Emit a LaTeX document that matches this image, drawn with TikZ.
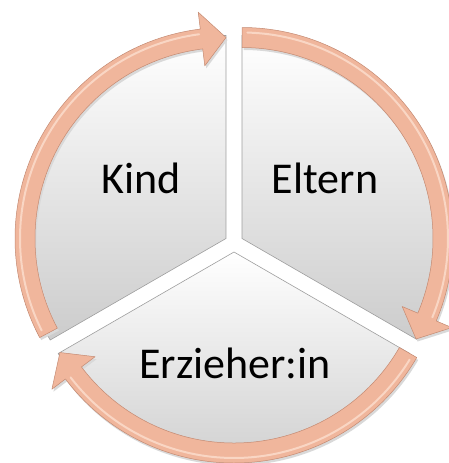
\documentclass[tikz,border=0pt]{standalone}
\usepackage{fontspec}
\setmainfont{Carlito}
\usetikzlibrary{calc}
\definecolor{peach}{HTML}{F0B69C}
\definecolor{peachdark}{HTML}{C48A72}
\definecolor{peachlight}{HTML}{F9D6C4}
\newcommand\cyclearrow[3]{%
 \begin{scope}[shift={(#1)}]
 \fill[arrowshadow] (#2:211) arc[start angle=#2,end angle=#3+7,radius=211] -- (#3+7:228)
   -- (#3:201) -- (#3+7:174) -- (#3+7:191) arc[start angle=#3+7,end angle=#2,radius=191] -- cycle;
 \fill[arrowbody] (#2:211) arc[start angle=#2,end angle=#3+7,radius=211] -- (#3+7:228)
   -- (#3:201) -- (#3+7:174) -- (#3+7:191) arc[start angle=#3+7,end angle=#2,radius=191] -- cycle;
 \draw[arrowshine] (#2-1.5:206) arc[start angle=#2-1.5,end angle=#3+7.5,radius=206];
 \draw[arrowedge] (#2:211) arc[start angle=#2,end angle=#3+7,radius=211] -- (#3+7:228)
   -- (#3:201) -- (#3+7:174) -- (#3+7:191) arc[start angle=#3+7,end angle=#2,radius=191] -- cycle;
 \end{scope}}

\begin{document}
\begin{tikzpicture}[x=1pt,y=1pt,
  seg/.style={top color=white,bottom color=black!20,draw=black!38,line width=0.6pt},
  lbl/.style={font=\fontsize{44}{52}\selectfont,anchor=base,inner sep=0pt},
  arrowbody/.style={fill=peach},
  arrowshadow/.style={fill=black!15,transform canvas={shift={(1.5pt,-2.5pt)}}},
  arrowshine/.style={draw=peachlight,line width=2pt,line cap=round},
  arrowedge/.style={draw=peachdark,line width=0.5pt,line join=round}]

\useasboundingbox (0,0) rectangle (448,-463);

\coordinate (ck) at (226,-238.5);
\coordinate (ce) at (242,-238.5);
\coordinate (cz) at (234,-252);

\path[seg] (ck) -- ++(90:203) arc[start angle=90,end angle=210,radius=203] -- cycle;
\path[seg] (ce) -- ++(-30:203) arc[start angle=-30,end angle=90,radius=203] -- cycle;
\path[seg] (cz) -- ++(210:203) arc[start angle=210,end angle=330,radius=203] -- cycle;

\node[lbl](kind) at (141,-193){Kind};
\node[lbl](eltern) at (325,-193){Eltern};
\node[lbl](erzieher) at (235,-378){Erzieher:in};

\cyclearrow{ck}{208}{90}
\cyclearrow{ce}{90}{-30}
\cyclearrow{cz}{-30}{-150}
\end{tikzpicture}
\end{document}
